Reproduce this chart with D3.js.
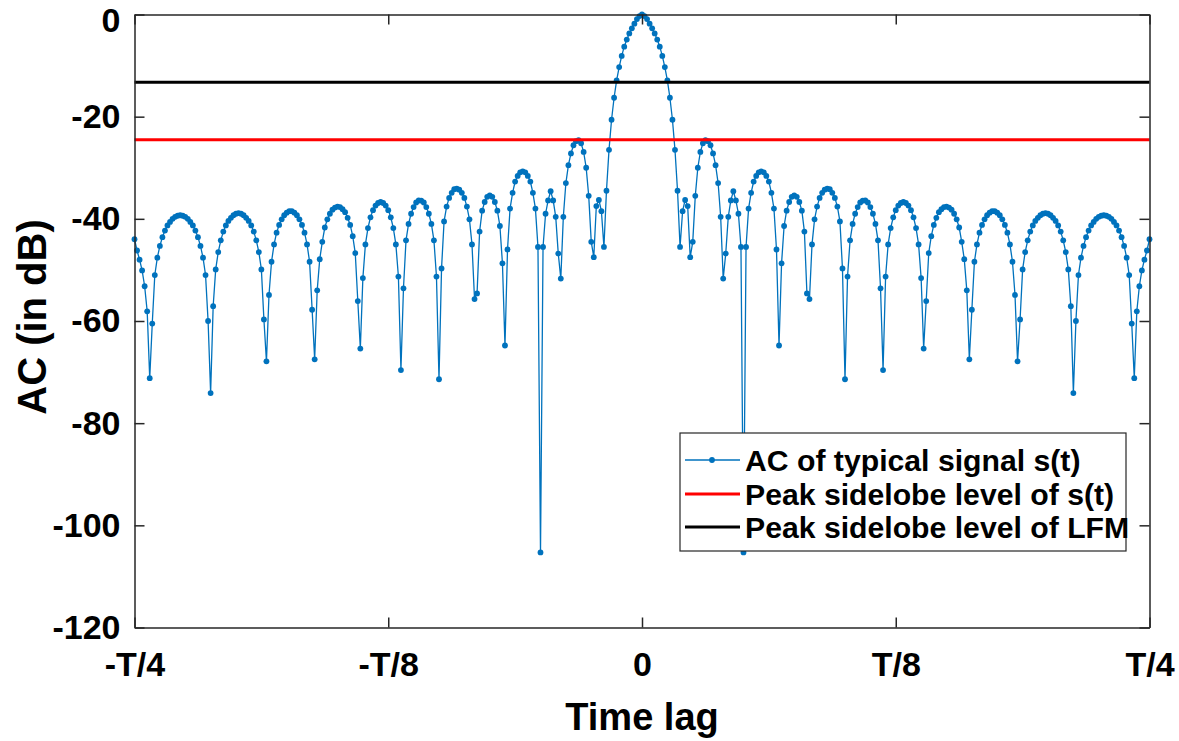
<!DOCTYPE html>
<html><head><meta charset="utf-8">
<script src="https://cdn.jsdelivr.net/npm/d3@7/dist/d3.min.js"></script>
<style>
body{margin:0;background:#fff}
svg{display:block}
text{font-family:"Liberation Sans",Arial,Helvetica,sans-serif;font-weight:bold;fill:#000}
</style>
</head><body>
<svg id="chart" width="1179" height="741"></svg>
<script>
// ---- data (lag in units of T, AC in dB) ----
const samplesPerSide = 200;          // samples from 0 to T/4
const lagStep = 0.25 / samplesPerSide;

// AC values for negative lags, from -T/4 up to just before 0
const acNegLags = [
-44.0,-46.2,-48.0,-50.1,-53.2,-58.1,-71.2,-60.5,-51.0,-47.6,
-45.3,-43.6,-42.3,-41.3,-40.6,-40.0,-39.6,-39.4,-39.3,-39.4,
-39.6,-40.0,-40.6,-41.3,-42.3,-43.6,-45.3,-47.6,-51.0,-60.0,
-74.1,-57.1,-49.9,-46.5,-44.2,-42.5,-41.3,-40.4,-39.8,-39.3,
-39.0,-38.9,-39.0,-39.3,-39.8,-40.4,-41.3,-42.5,-44.2,-46.5,
-49.9,-59.7,-67.9,-54.9,-48.4,-45.0,-42.7,-41.2,-40.1,-39.3,
-38.8,-38.5,-38.5,-38.8,-39.3,-40.1,-41.2,-42.7,-45.0,-48.4,
-57.8,-67.5,-54.0,-47.9,-44.5,-41.7,-40.1,-39.0,-38.2,-37.8,
-37.6,-37.7,-38.1,-38.7,-39.8,-41.2,-43.4,-46.7,-56.1,-65.4,
-51.6,-45.0,-41.8,-39.7,-38.3,-37.4,-36.9,-36.7,-36.9,-37.4,
-38.3,-39.7,-41.8,-45.0,-51.3,-69.6,-53.6,-44.2,-41.0,-39.0,
-37.7,-36.8,-36.4,-36.45,-36.8,-37.7,-39.0,-41.0,-44.2,-51.3,
-71.4,-49.7,-40.5,-37.6,-35.9,-34.9,-34.2,-34.1,-34.3,-34.9,
-35.9,-37.6,-40.1,-45.0,-55.7,-54.6,-42.5,-38.4,-36.7,-35.7,
-35.4,-35.7,-36.7,-38.4,-41.4,-48.7,-64.8,-46.0,-38.0,-34.9,
-32.7,-31.6,-30.9,-30.7,-30.9,-31.6,-32.7,-34.9,-38.0,-45.5,
-105.3,-45.5,-39.0,-36.4,-34.6,-36.4,-39.6,-46.8,-51.7,-39.6,
-33.0,-29.5,-27.2,-25.6,-24.8,-24.6,-25.2,-26.9,-30.0,-35.5,
-44.5,-47.5,-37.5,-36.3,-38.5,-45.5,-34.5,-26.5,-20.6,-16.3,
-12.9,-10.3,-8.1,-6.3,-4.9,-3.7,-2.7,-1.8,-0.9,-0.3
];
const acZeroLag = [0];
// AC values for positive lags, from just after 0 up to T/4
const acPosLags = [
-0.3,-0.9,-1.8,-2.7,-3.7,-4.9,-6.3,-8.1,-10.3,-12.9,
-16.3,-20.6,-26.5,-34.5,-45.5,-38.5,-36.3,-37.5,-47.5,-44.5,
-35.5,-30.0,-26.9,-25.2,-24.6,-24.8,-25.6,-27.2,-29.5,-33.0,
-39.6,-51.7,-46.8,-39.6,-36.4,-34.6,-36.4,-39.0,-45.5,-105.3,
-45.5,-38.0,-34.9,-32.7,-31.6,-30.9,-30.7,-30.9,-31.6,-32.7,
-34.9,-38.0,-46.0,-64.8,-48.7,-41.4,-38.4,-36.7,-35.7,-35.4,
-35.7,-36.7,-38.4,-42.5,-54.6,-55.7,-45.0,-40.1,-37.6,-35.9,
-34.9,-34.3,-34.1,-34.2,-34.9,-35.9,-37.6,-40.5,-49.7,-71.4,
-51.3,-44.2,-41.0,-39.0,-37.7,-36.8,-36.45,-36.4,-36.8,-37.7,
-39.0,-41.0,-44.2,-53.6,-69.6,-51.3,-45.0,-41.8,-39.7,-38.3,
-37.4,-36.9,-36.7,-36.9,-37.4,-38.3,-39.7,-41.8,-45.0,-51.6,
-65.4,-56.1,-46.7,-43.4,-41.2,-39.8,-38.7,-38.1,-37.7,-37.6,
-37.8,-38.2,-39.0,-40.1,-41.7,-44.5,-47.9,-54.0,-67.5,-57.8,
-48.4,-45.0,-42.7,-41.2,-40.1,-39.3,-38.8,-38.5,-38.5,-38.8,
-39.3,-40.1,-41.2,-42.7,-45.0,-48.4,-54.9,-67.9,-59.7,-49.9,
-46.5,-44.2,-42.5,-41.3,-40.4,-39.8,-39.3,-39.0,-38.9,-39.0,
-39.3,-39.8,-40.4,-41.3,-42.5,-44.2,-46.5,-49.9,-57.1,-74.1,
-60.0,-51.0,-47.6,-45.3,-43.6,-42.3,-41.3,-40.6,-40.0,-39.6,
-39.4,-39.3,-39.4,-39.6,-40.0,-40.6,-41.3,-42.3,-43.6,-45.3,
-47.6,-51.0,-60.5,-71.2,-58.1,-53.2,-50.1,-48.0,-46.2,-44.0
];

const pslSignalDb = -24.5;   // peak sidelobe level of s(t)
const pslLfmDb = -13.26;     // peak sidelobe level of LFM

const xTickValues = [-0.25, -0.125, 0, 0.125, 0.25];
const xTickLabels = ["-T/4", "-T/8", "0", "T/8", "T/4"];
const yTickValues = [0, -20, -40, -60, -80, -100, -120];
const yTickLabels = ["0", "-20", "-40", "-60", "-80", "-100", "-120"];

const legendLabels = ["AC of typical signal s(t)", "Peak sidelobe level of s(t)", "Peak sidelobe level of LFM"];
const xAxisTitle = "Time lag";
const yAxisTitle = "AC (in dB)";

// ---- layout / styles ----
const plot = {left: 134.5, right: 1149.5, top: 14.5, bottom: 627.5};
const blue = "#0072BD", red = "#FF0000", black = "#000000", axisColor = "#262626";

const acAll = acNegLags.concat(acZeroLag, acPosLags);
const series = acAll.map((v, k) => ({lag: (k - samplesPerSide) * lagStep, db: v}));

const svg = d3.select("#chart");
svg.append("rect").attr("width", 1179).attr("height", 741).attr("fill", "#fff");

const x = d3.scaleLinear().domain([-0.25, 0.25]).range([plot.left, plot.right]);
const y = d3.scaleLinear().domain([-120, 0]).range([plot.bottom, plot.top]);

// AC curve
const line = d3.line().x(d => x(d.lag)).y(d => y(d.db));
svg.append("path").datum(series)
  .attr("d", line).attr("fill", "none").attr("stroke", blue).attr("stroke-width", 1.3);
svg.append("g").selectAll("circle").data(series).join("circle")
  .attr("cx", d => x(d.lag)).attr("cy", d => y(d.db)).attr("r", 2.9).attr("fill", blue);

// PSL lines
svg.append("line").attr("x1", x(-0.25)).attr("x2", x(0.25))
  .attr("y1", y(pslSignalDb)).attr("y2", y(pslSignalDb)).attr("stroke", red).attr("stroke-width", 3);
svg.append("line").attr("x1", x(-0.25)).attr("x2", x(0.25))
  .attr("y1", y(pslLfmDb)).attr("y2", y(pslLfmDb)).attr("stroke", black).attr("stroke-width", 3);

// axes
const tickFont = 34;
function styleAxis(g) {
  g.attr("font-family", null);
  g.selectAll(".domain").attr("stroke", axisColor).attr("stroke-width", 1.5);
  g.selectAll(".tick line").attr("stroke", axisColor).attr("stroke-width", 1.5);
  g.selectAll(".tick text").attr("font-size", tickFont).attr("fill", "#000");
}
const xAxisB = d3.axisBottom(x).tickValues(xTickValues)
  .tickFormat((d, i) => xTickLabels[i]).tickSizeInner(-10).tickSizeOuter(0).tickPadding(24);
svg.append("g").attr("transform", `translate(0,${plot.bottom})`).call(xAxisB).call(styleAxis);
const xAxisT = d3.axisTop(x).tickValues(xTickValues).tickFormat("").tickSizeInner(-10).tickSizeOuter(0);
svg.append("g").attr("transform", `translate(0,${plot.top})`).call(xAxisT).call(styleAxis);
const yAxisL = d3.axisLeft(y).tickValues(yTickValues).tickFormat((d, i) => yTickLabels[i])
  .tickSizeInner(-10).tickSizeOuter(0).tickPadding(14);
const yG = svg.append("g").attr("transform", `translate(${plot.left},0)`).call(yAxisL).call(styleAxis);
// keep the top "0" label fully inside the picture
yG.selectAll(".tick text").filter(d => d === 0).attr("dy", "0.5em");
const yAxisR = d3.axisRight(y).tickValues(yTickValues).tickFormat("").tickSizeInner(-10).tickSizeOuter(0);
svg.append("g").attr("transform", `translate(${plot.right},0)`).call(yAxisR).call(styleAxis);

// axis titles
svg.append("text").attr("x", (plot.left + plot.right) / 2).attr("y", 730)
  .attr("text-anchor", "middle").attr("font-size", 38).text(xAxisTitle);
svg.append("text").attr("transform", `translate(46,${(plot.top + plot.bottom) / 2 - 4}) rotate(-90)`)
  .attr("text-anchor", "middle").attr("font-size", 40).text(yAxisTitle);

// legend
const lg = svg.append("g");
lg.append("rect").attr("x", 680).attr("y", 433).attr("width", 446).attr("height", 118)
  .attr("fill", "#fff").attr("stroke", axisColor).attr("stroke-width", 1.2);
const rowsY = [460, 494, 527];
const legendStyles = [{c: blue, w: 1.3, marker: true}, {c: red, w: 3}, {c: black, w: 3}];
legendLabels.forEach((lab, i) => {
  const ly = rowsY[i];
  lg.append("line").attr("x1", 685).attr("x2", 740).attr("y1", ly).attr("y2", ly)
    .attr("stroke", legendStyles[i].c).attr("stroke-width", legendStyles[i].w);
  if (legendStyles[i].marker) lg.append("circle").attr("cx", 712).attr("cy", ly).attr("r", 2.9).attr("fill", blue);
  lg.append("text").attr("x", 745).attr("y", ly).attr("dy", "0.36em")
    .attr("font-size", 30.2).text(lab);
});
</script>
</body></html>
